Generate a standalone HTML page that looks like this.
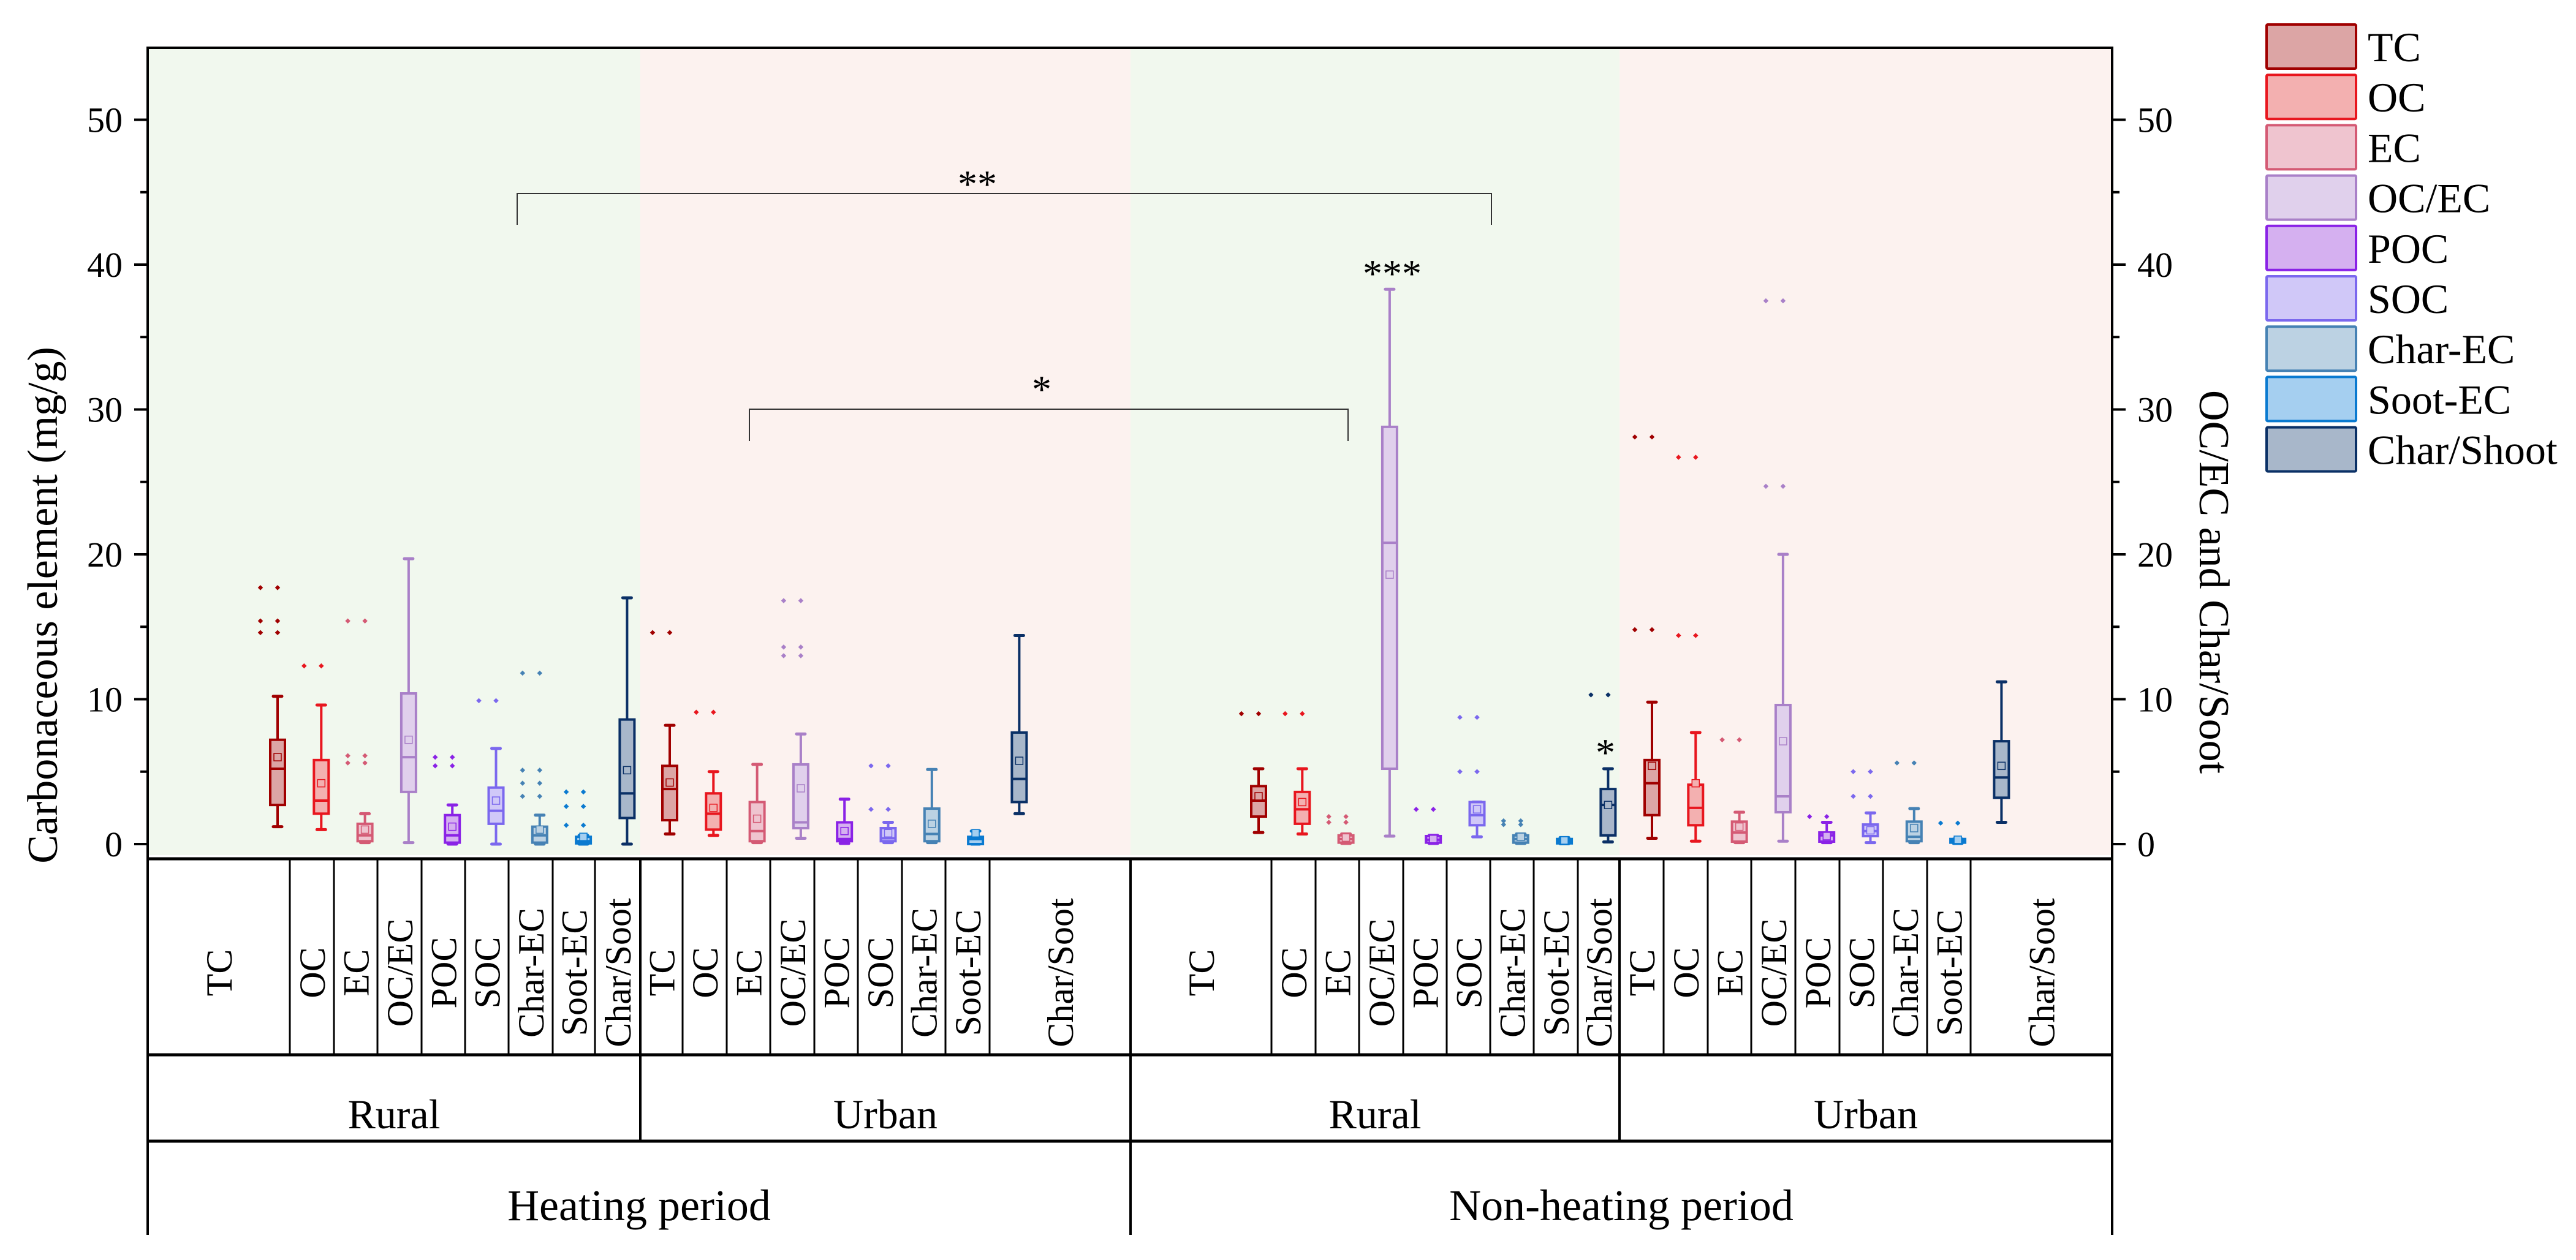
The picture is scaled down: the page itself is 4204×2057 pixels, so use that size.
<!DOCTYPE html>
<html><head><meta charset="utf-8">
<style>
html,body{margin:0;padding:0;background:#fff;}
svg{display:block;font-family:"Liberation Serif",serif;}
</style></head>
<body>
<svg id="chart" width="4204" height="2057" viewBox="0 0 4204 2057" xmlns="http://www.w3.org/2000/svg"></svg>
<script>
// ---------- data ----------
const categories = ["TC","OC","EC","OC/EC","POC","SOC","Char-EC","Soot-EC","Char/Soot"];
const legendLabels = ["TC","OC","EC","OC/EC","POC","SOC","Char-EC","Soot-EC","Char/Shoot"];
const sites = ["Rural","Urban","Rural","Urban"];
const periods = ["Heating period","Non-heating period"];
const yTicks = [0,10,20,30,40,50];
const whiskerLow = [1.2,1.0,0.1,0.1,0,0,0,0,0, 0.7,0.6,0.1,0.4,0.05,0.1,0.1,0,2.1, 0.8,0.7,0.05,0.55,0.05,0.5,0.05,0.02,0.15, 0.4,0.2,0.1,0.2,0.1,0.1,0.1,0.05,1.5];
const q1 = [2.7,2.1,0.2,3.6,0.1,1.4,0.1,0.05,1.8, 1.65,1.0,0.2,1.1,0.2,0.2,0.2,0,2.9, 1.9,1.4,0.1,5.2,0.1,1.3,0.1,0.05,0.6, 2.0,1.3,0.17,2.2,0.17,0.55,0.2,0.1,3.2];
const medians = [5.2,3.0,0.6,6.0,0.6,2.3,0.6,0.2,3.5, 3.8,2.1,0.9,1.5,0.35,0.4,0.7,0.35,4.5, 3.0,2.4,0.35,20.8,0.3,2.0,0.35,0.2,2.7, 4.2,2.5,0.8,3.3,0.6,0.9,0.5,0.2,4.6];
const q3 = [7.2,5.8,1.4,10.4,2.0,3.9,1.2,0.5,8.6, 5.4,3.5,2.9,5.5,1.5,1.1,2.45,0.5,7.7, 4.0,3.6,0.6,28.8,0.55,2.9,0.6,0.35,3.8, 5.8,4.1,1.55,9.6,0.8,1.35,1.55,0.35,7.1];
const whiskerHigh = [10.2,9.6,2.1,19.7,2.7,6.6,2.0,0.6,17.0, 8.2,5.0,5.5,7.6,3.1,1.5,5.15,0.9,14.4, 5.2,5.2,0.7,38.3,0.6,2.9,0.7,0.45,5.2, 9.8,7.7,2.2,20.0,1.5,2.15,2.45,0.35,11.2];
const means = [6.0,4.2,1.0,7.2,1.2,3.0,1.0,0.5,5.1, 4.25,2.5,1.75,3.85,0.9,0.75,1.4,0.75,5.75, 3.3,2.9,0.45,18.6,0.35,2.4,0.5,0.25,2.7, 5.4,4.2,1.2,7.1,0.55,0.95,1.1,0.3,5.4];
const outliers = [[17.7,15.4,14.6],[12.3],[15.4,6.1,5.6],[],[6.0,5.4],[9.9],[11.8,5.1,4.2,3.3],[3.6,2.6,1.3],[],
 [14.6],[9.1],[],[16.8,13.6,13.0],[],[5.4,2.4],[],[],[],
 [9.0],[9.0],[1.9,1.5],[],[2.4],[8.75,5.0],[1.6,1.35],[],[10.3],
 [28.1,14.8],[26.7,14.4],[7.2],[37.5,24.7],[1.9],[5.0,3.3],[5.6],[1.45],[]];
// ---------- styles/layout ----------
const strokes = ["#a00000","#e8161e","#d45a74","#a980c8","#8a22e6","#7b68ee","#4682b4","#0a7ad0","#0a3066"];
const fills = ["#dca5a5","#f3b0b0","#efc4cf","#e0d0ec","#d5b0f0","#d0c8f8","#bcd2e3","#a5cff0","#a8b7ca"];
const groupStartX = [453,1093,2054,2696];
const spacing = 71.3;
const colBounds = [[241,473,545,616,688,759,830,902,971,1045],[1045,1114,1186,1257,1329,1400,1472,1543,1615,1845],[1845,2075,2147,2218,2290,2361,2432,2503,2575,2643],[2643,2715,2787,2858,2930,3002,3073,3145,3216,3447]];
const L=241,R=3447,T=78,B=1402,Y0=1378,PPU=23.65;
const y = v => Y0 - v*PPU;
const svg = document.getElementById('chart');
const NS="http://www.w3.org/2000/svg";
function mk(tag, attrs, parent){const e=document.createElementNS(NS,tag);for(const k in attrs)e.setAttribute(k,attrs[k]);(parent||svg).appendChild(e);return e;}

// backgrounds
const bgCols=["#f1f8ee","#fcf2ef","#f1f8ee","#fcf2ef"];
for(let g=0;g<4;g++){
  const r=mk('rect',{x:colBounds[g][0],y:T,width:colBounds[g][9]-colBounds[g][0],height:1396-T,fill:bgCols[g]});
  
  
}

// boxes
for(let g=0;g<4;g++){
  for(let c=0;c<9;c++){
    const i=g*9+c, cx=groupStartX[g]+spacing*c;
    const gr=mk('g',{});
    
    
    const s=strokes[c],f=fills[c];
    // outlier dots (left column and box center)
    outliers[i].forEach(v=>{
      [cx-28,cx].forEach(px=>{
        const d=mk('rect',{x:px-3,y:y(v)-3,width:6,height:6,fill:s,transform:`rotate(45 ${px} ${y(v)})`},gr);
        
        
      });
    });
    mk('line',{x1:cx,x2:cx,y1:y(whiskerHigh[i]),y2:y(q3[i]),stroke:s,'stroke-width':4},gr);
    mk('line',{x1:cx,x2:cx,y1:y(q1[i]),y2:y(whiskerLow[i]),stroke:s,'stroke-width':4},gr);
    mk('line',{x1:cx-7,x2:cx+7,y1:y(whiskerHigh[i]),y2:y(whiskerHigh[i]),stroke:s,'stroke-width':5,'stroke-linecap':'round'},gr);
    mk('line',{x1:cx-7,x2:cx+7,y1:y(whiskerLow[i]),y2:y(whiskerLow[i]),stroke:s,'stroke-width':5,'stroke-linecap':'round'},gr);
    const h=Math.max(y(q1[i])-y(q3[i]),2);
    const bx=mk('rect',{x:cx-12,y:y(q3[i]),width:24,height:h,fill:f,stroke:s,'stroke-width':4},gr);
    
    
    mk('line',{x1:cx-12,x2:cx+12,y1:y(medians[i]),y2:y(medians[i]),stroke:s,'stroke-width':4},gr);
    const m=mk('rect',{x:cx-6,y:y(means[i])-6,width:12,height:12,fill:f,stroke:s,'stroke-width':1.5},gr);
    
    
  }
}

// significance brackets
function bracket(x1,x2,yy,yd,label,lx,ly,name){
  const g=mk('g',{});
  
  
  mk('path',{d:`M${x1} ${yd}V${yy}H${x2}V${yd}`,fill:'none',stroke:'#333','stroke-width':2},g);
  const t=mk('text',{x:lx,y:ly,'font-size':64,'text-anchor':'middle',fill:'#000'},g);t.textContent=label;
}
bracket(844,2434,316,367,'**',1595,322,'significance-bracket-double-star');
bracket(1223,2200,668,720,'*',1700,657,'significance-bracket-single-star');
let t=mk('text',{x:2272,y:468,'font-size':64,'text-anchor':'middle'});t.textContent='***';

t=mk('text',{x:2620,y:1250,'font-size':64,'text-anchor':'middle'});t.textContent='*';


// axes frame
const ax=mk('g',{});
mk('line',{x1:L-2,x2:R+2,y1:T,y2:T,stroke:'#000','stroke-width':4},ax);
mk('line',{x1:L,x2:L,y1:T-2,y2:2016,stroke:'#000','stroke-width':4},ax);
mk('line',{x1:R,x2:R,y1:T-2,y2:2016,stroke:'#000','stroke-width':4},ax);
mk('line',{x1:L,x2:R,y1:B,y2:B,stroke:'#000','stroke-width':5},ax);
for(let v=0;v<=50;v+=5){
  const major=v%10===0, len=major?22:12;
  mk('line',{x1:L-len,x2:L,y1:y(v),y2:y(v),stroke:'#000','stroke-width':4},ax);
  mk('line',{x1:R,x2:R+len,y1:y(v),y2:y(v),stroke:'#000','stroke-width':4},ax);
}
yTicks.forEach(v=>{
  const a=mk('text',{x:200,y:y(v)+20,'font-size':58,'text-anchor':'end'});a.textContent=v;
  
  const b=mk('text',{x:3488,y:y(v)+20,'font-size':58,'text-anchor':'start'});b.textContent=v;
  
});
t=mk('text',{x:0,y:0,'font-size':70,'text-anchor':'middle',transform:'translate(93 988) rotate(-90)'});t.textContent='Carbonaceous element (mg/g)';

t=mk('text',{x:0,y:0,'font-size':70,'text-anchor':'middle',transform:'translate(3590 950) rotate(90)'});t.textContent='OC/EC and Char/Soot';


// table
const tb=mk('g',{});
mk('line',{x1:L,x2:R,y1:1722,y2:1722,stroke:'#000','stroke-width':5},tb);
mk('line',{x1:L,x2:R,y1:1863,y2:1863,stroke:'#000','stroke-width':5},tb);
for(let g=0;g<4;g++){
  const cb=colBounds[g];
  for(let c=0;c<9;c++){
    if(c>0) mk('line',{x1:cb[c],x2:cb[c],y1:B,y2:1722,stroke:'#000','stroke-width':3},tb);
    const cx=(cb[c]+cb[c+1])/2;
    const lt=mk('text',{x:0,y:0,'font-size':60,'text-anchor':'middle',transform:`translate(${cx+21} 1588) rotate(-90)`},tb);
    lt.textContent=categories[c];
    
  }
  if(g>0) mk('line',{x1:cb[0],x2:cb[0],y1:B,y2:g===2?2016:1863,stroke:'#000','stroke-width':4},tb);
  const st=mk('text',{x:(cb[0]+cb[9])/2,y:1842,'font-size':68,'text-anchor':'middle'},tb);st.textContent=sites[g];
  
}
periods.forEach((p,k)=>{
  const x0=k===0?L:1845,x1=k===0?1845:R;
  const pt=mk('text',{x:(x0+x1)/2,y:1992,'font-size':72,'text-anchor':'middle'},tb);pt.textContent=p;
  
});

// legend
const lg=mk('g',{});
legendLabels.forEach((lab,k)=>{
  const e=mk('g',{},lg);
  
  
  const yy=40+k*82.2;
  mk('rect',{x:3699,y:yy,width:146,height:72,fill:fills[k],stroke:strokes[k],'stroke-width':4,rx:2},e);
  const tx=mk('text',{x:3864,y:yy+60,'font-size':68},e);tx.textContent=lab;
});
</script>
</body></html>
